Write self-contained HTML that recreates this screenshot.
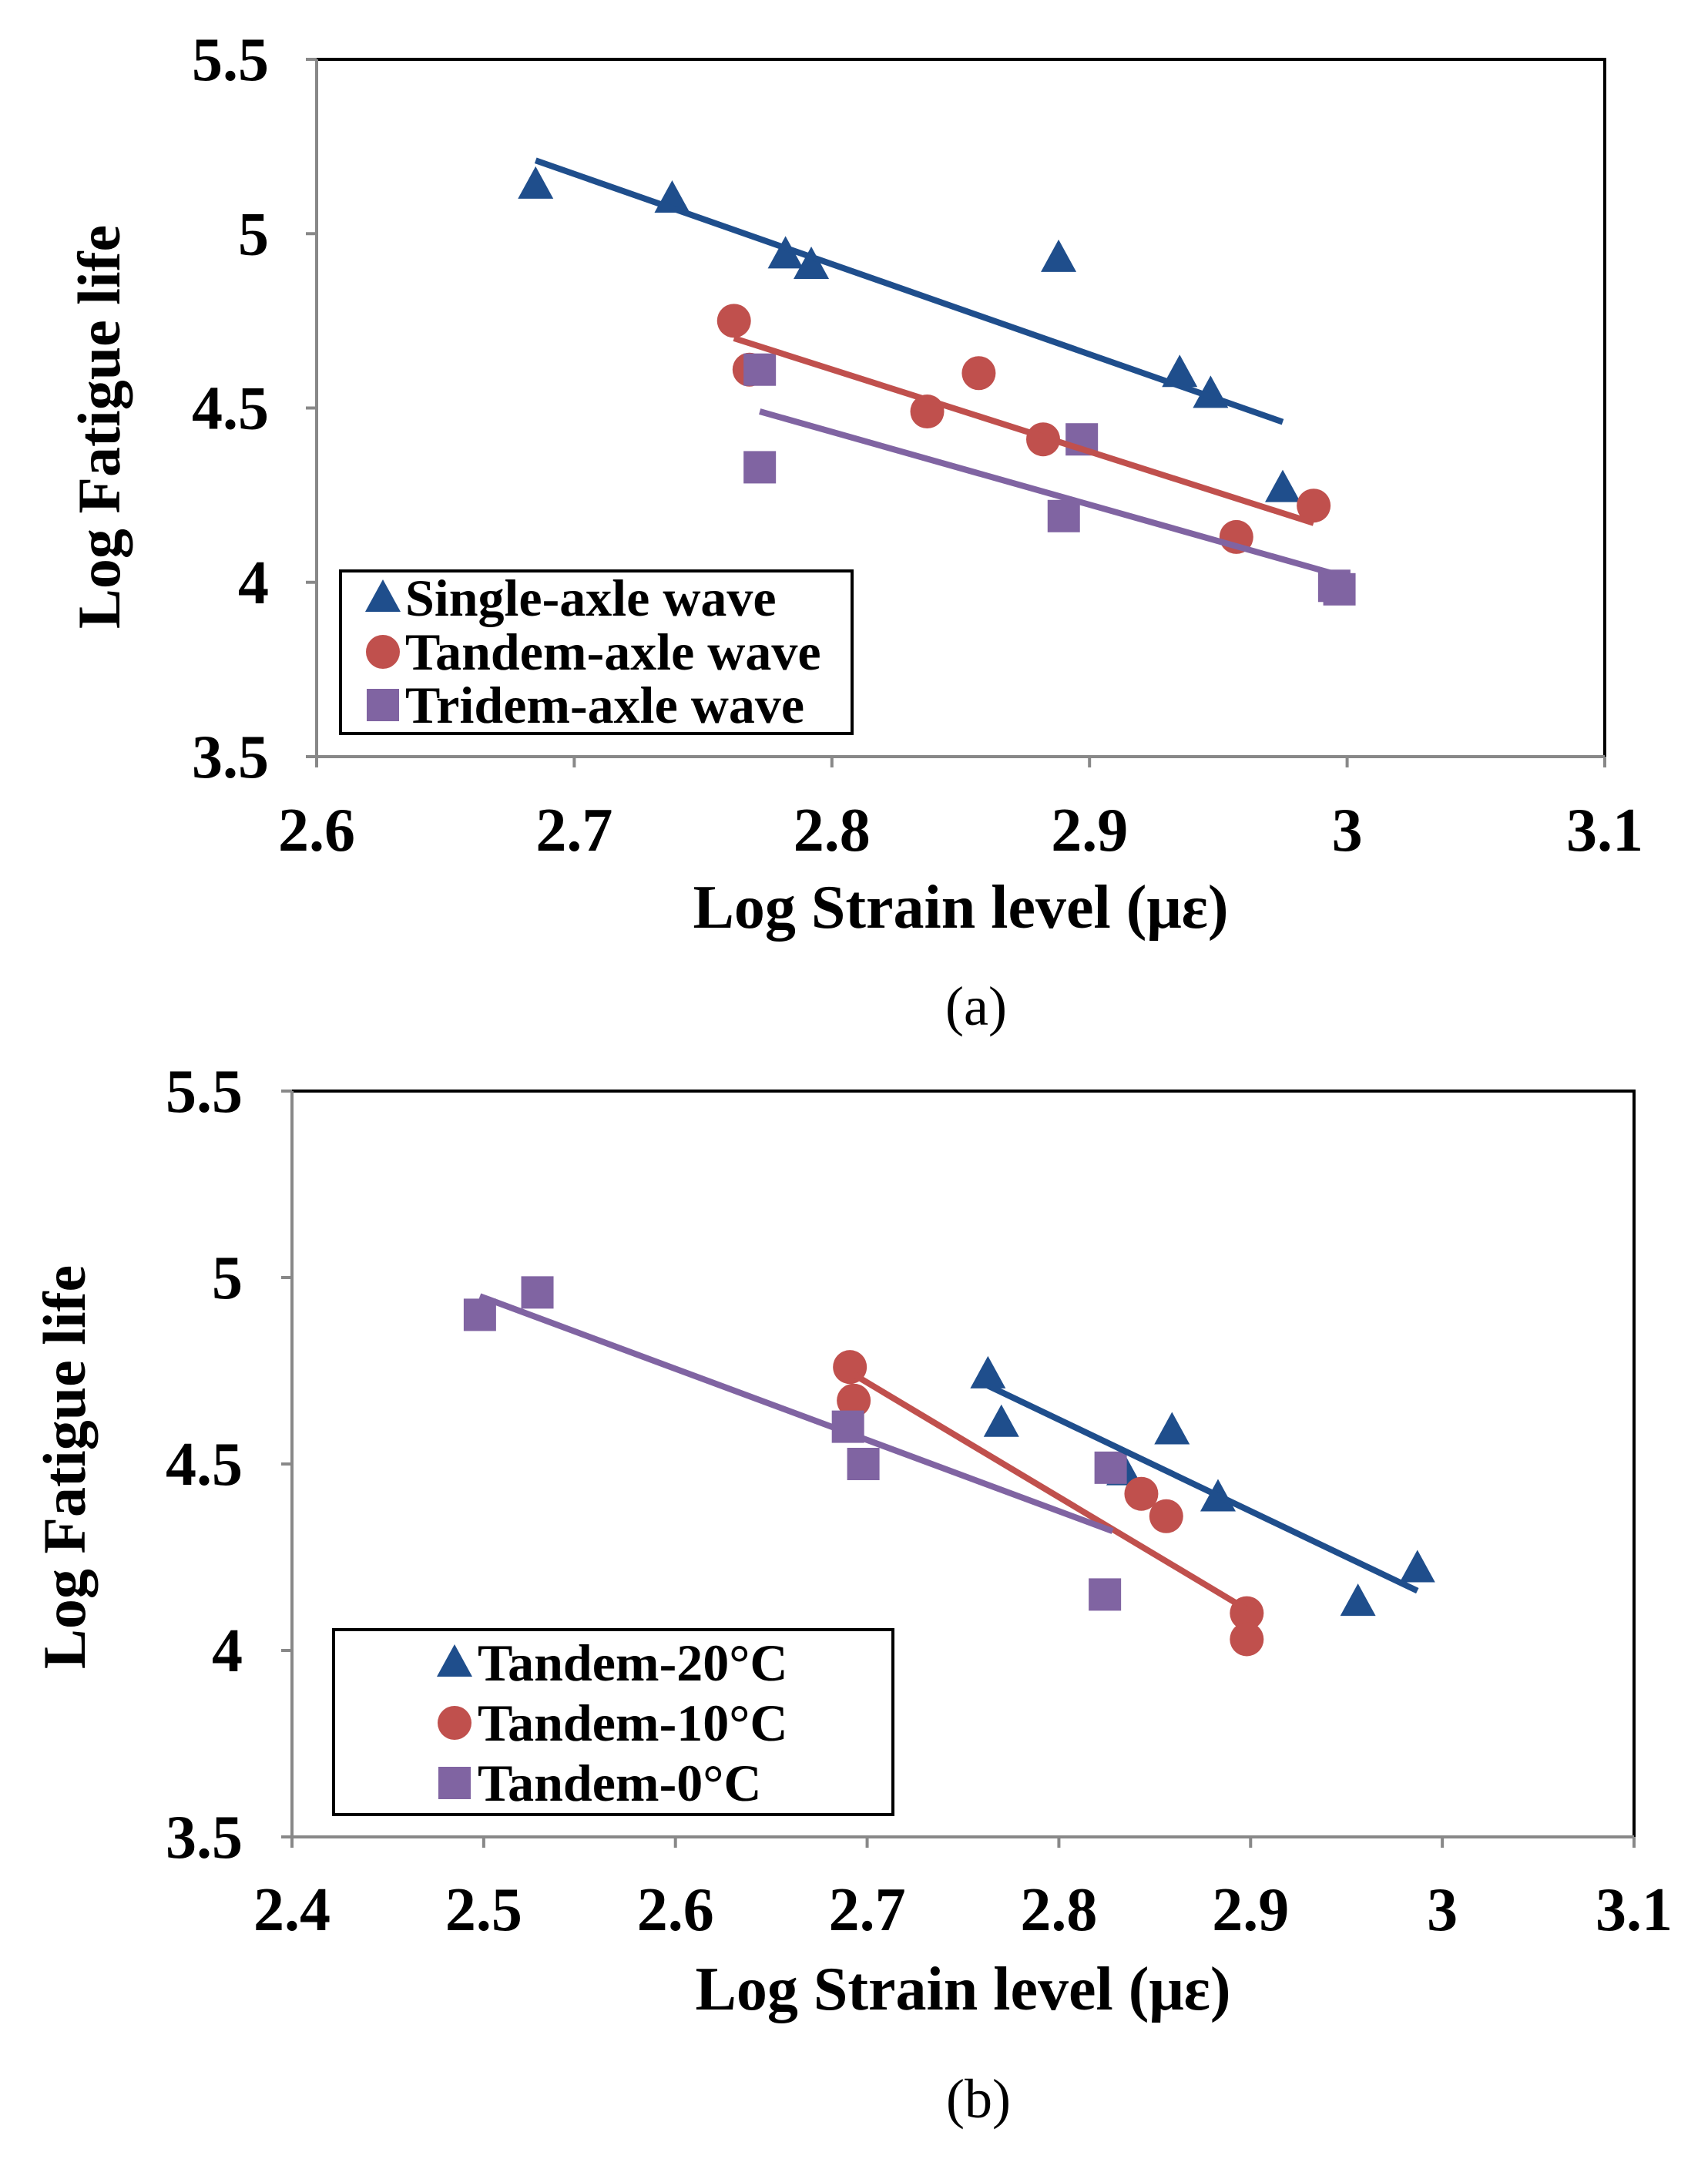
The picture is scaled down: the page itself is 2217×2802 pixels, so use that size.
<!DOCTYPE html>
<html><head><meta charset="utf-8"><style>
html,body{margin:0;padding:0;background:#fff;}
svg{display:block;font-family:"Liberation Serif",serif;}
</style></head><body>
<svg id="svg" width="2217" height="2802" viewBox="0 0 2217 2802" xmlns="http://www.w3.org/2000/svg"></svg>
<script>
// ---- Chart (a) data ----
const aSingleX=[2.685,2.738,2.782,2.792,2.888,2.935,2.947,2.975];
const aSingleY=[5.14,5.10,4.94,4.91,4.93,4.60,4.54,4.27];
const aSingleFitX=[2.685,2.975];
const aSingleFitY=[5.21,4.46];
const aTandemX=[2.762,2.768,2.837,2.857,2.882,2.957,2.987];
const aTandemY=[4.75,4.61,4.49,4.60,4.41,4.13,4.22];
const aTandemFitX=[2.762,2.987];
const aTandemFitY=[4.70,4.17];
const aTridemX=[2.772,2.772,2.897,2.890,2.997,2.995];
const aTridemY=[4.61,4.33,4.41,4.19,3.98,3.99];
const aTridemFitX=[2.772,2.997];
const aTridemFitY=[4.49,4.02];
const aXTicks=["2.6","2.7","2.8","2.9","3","3.1"];
const aYTicks=["3.5","4","4.5","5","5.5"];
const aLegend=["Single-axle wave","Tandem-axle wave","Tridem-axle wave"];
// ---- Chart (b) data ----
const b20X=[2.763,2.770,2.834,2.859,2.883,2.956,2.987];
const b20Y=[4.74,4.61,4.48,4.59,4.41,4.13,4.22];
const b20FitX=[2.763,2.987];
const b20FitY=[4.71,4.16];
const b10X=[2.691,2.693,2.843,2.856,2.898,2.898];
const b10Y=[4.76,4.67,4.42,4.36,4.10,4.03];
const b10FitX=[2.693,2.898];
const b10FitY=[4.74,4.11];
const b0X=[2.498,2.528,2.690,2.698,2.827,2.824];
const b0Y=[4.90,4.96,4.60,4.50,4.49,4.15];
const b0FitX=[2.498,2.828];
const b0FitY=[4.95,4.32];
const bXTicks=["2.4","2.5","2.6","2.7","2.8","2.9","3","3.1"];
const bYTicks=["3.5","4","4.5","5","5.5"];
const bLegend=["Tandem-20\u00B0C","Tandem-10\u00B0C","Tandem-0\u00B0C"];

const NS="http://www.w3.org/2000/svg";
const svg=document.getElementById('svg');
const BLUE="#1F4E8C",RED="#C0504D",PURPLE="#8064A2";
function el(tag,attrs,parent){const e=document.createElementNS(NS,tag);for(const k in attrs)e.setAttribute(k,attrs[k]);(parent||svg).appendChild(e);return e;}
function marker(g,shape,cx,cy,color,name){
  let m;
  if(shape==='tri'){m=el('polygon',{points:`${cx},${cy-24} ${cx-23},${cy+18} ${cx+23},${cy+18}`,fill:color},g);}
  else if(shape==='circ'){m=el('circle',{cx:cx,cy:cy,r:22,fill:color},g);}
  else {m=el('rect',{x:cx-21,y:cy-21,width:42,height:42,fill:color},g);}
  
  
  return m;
}
function chart(cfg){
  const g=el('g',{});
  
  
  const X=v=>cfg.L+(v-cfg.xmin)/(cfg.xmax-cfg.xmin)*(cfg.R-cfg.L);
  const Y=v=>cfg.B-(v-cfg.ymin)/(cfg.ymax-cfg.ymin)*(cfg.B-cfg.T);
  const frame=el('rect',{x:cfg.L,y:cfg.T,width:cfg.R-cfg.L,height:cfg.B-cfg.T,fill:'none',stroke:'#000','stroke-width':4},g);
  
  
  const ax=el('line',{x1:cfg.L,y1:cfg.B,x2:cfg.R,y2:cfg.B,stroke:'#888','stroke-width':4},g);
  
  
  const ay=el('line',{x1:cfg.L,y1:cfg.T,x2:cfg.L,y2:cfg.B,stroke:'#888','stroke-width':4},g);
  
  
  cfg.xt.forEach(t=>{const x=X(parseFloat(t));
    el('line',{x1:x,y1:cfg.B,x2:x,y2:cfg.B+14,stroke:'#888','stroke-width':4},g);
    const tx=el('text',{x:x,y:cfg.xlY,'text-anchor':'middle','font-size':80,'font-weight':'bold'},g);tx.textContent=t;
    
    
  });
  cfg.yt.forEach(t=>{const y=Y(parseFloat(t));
    el('line',{x1:cfg.L-14,y1:y,x2:cfg.L,y2:y,stroke:'#888','stroke-width':4},g);
    const tx=el('text',{x:cfg.ylX,y:y+27,'text-anchor':'end','font-size':80,'font-weight':'bold'},g);tx.textContent=t;
    
    
  });
  const xt=el('text',{x:(cfg.L+cfg.R)/2,y:cfg.xtY,'text-anchor':'middle','font-size':80,'font-weight':'bold'},g);xt.textContent='Log Strain level (\u03BC\u03B5)';
  
  
  const yt=el('text',{x:0,y:0,'text-anchor':'middle','font-size':78,'font-weight':'bold',transform:`translate(${cfg.ytX},${cfg.ytY}) rotate(-90)`},g);yt.textContent='Log Fatigue life';
  
  
  const cap=el('text',{x:(cfg.L+cfg.R)/2+20,y:cfg.capY,'text-anchor':'middle','font-size':72},g);cap.textContent=cfg.cap;
  
  
  cfg.series.forEach(s=>{
    s.xs.forEach((v,i)=>marker(g,s.shape,X(v),Y(s.ys[i]),s.color,s.name+'-point'));
  });
  cfg.series.forEach(s=>{
    const ln=el('line',{x1:X(s.fx[0]),y1:Y(s.fy[0]),x2:X(s.fx[1]),y2:Y(s.fy[1]),stroke:s.color,'stroke-width':8},g);
    
    
  });
  const lg=el('g',{},g);
  
  
  el('rect',{x:cfg.lg.x,y:cfg.lg.y,width:cfg.lg.w,height:cfg.lg.h,fill:'#fff',stroke:'#000','stroke-width':4},lg);
  cfg.series.forEach((s,i)=>{
    const cy=cfg.lg.rows[i];
    marker(lg,s.shape,cfg.lg.mx,cy,s.color,'legend-marker');
    const t=el('text',{x:cfg.lg.tx,y:cy+23,'font-size':cfg.lg.fs,'font-weight':'bold'},lg);t.textContent=cfg.legend[i];
    
    
  });
}
chart({name:'chart-a',L:411,R:2083,T:77,B:982,xmin:2.6,xmax:3.1,ymin:3.5,ymax:5.5,
  xt:aXTicks,yt:aYTicks,xlY:1104,ylX:349,xtY:1204,ytX:155,ytY:554,capY:1330,cap:'(a)',legend:aLegend,
  series:[{name:'single-axle',shape:'tri',color:BLUE,xs:aSingleX,ys:aSingleY,fx:aSingleFitX,fy:aSingleFitY},
          {name:'tandem-axle',shape:'circ',color:RED,xs:aTandemX,ys:aTandemY,fx:aTandemFitX,fy:aTandemFitY},
          {name:'tridem-axle',shape:'sq',color:PURPLE,xs:aTridemX,ys:aTridemY,fx:aTridemFitX,fy:aTridemFitY}],
  lg:{x:442,y:741,w:664,h:211,rows:[776,846,915],mx:497,tx:526,fs:68}});
chart({name:'chart-b',L:379,R:2121,T:1416,B:2384,xmin:2.4,xmax:3.1,ymin:3.5,ymax:5.5,
  xt:bXTicks,yt:bYTicks,xlY:2505,ylX:315,xtY:2608,ytX:110,ytY:1904,capY:2748,cap:'(b)',legend:bLegend,
  series:[{name:'tandem-20c',shape:'tri',color:BLUE,xs:b20X,ys:b20Y,fx:b20FitX,fy:b20FitY},
          {name:'tandem-10c',shape:'circ',color:RED,xs:b10X,ys:b10Y,fx:b10FitX,fy:b10FitY},
          {name:'tandem-0c',shape:'sq',color:PURPLE,xs:b0X,ys:b0Y,fx:b0FitX,fy:b0FitY}],
  lg:{x:433,y:2115,w:726,h:240,rows:[2158,2236,2314],mx:590,tx:620,fs:68}});
</script>
</body></html>
